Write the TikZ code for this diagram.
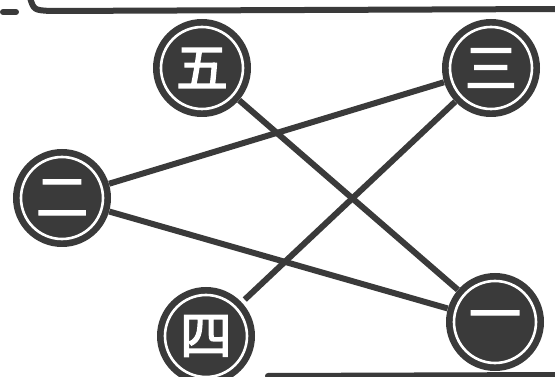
\documentclass[tikz,border=0pt]{standalone}
\usepackage{fontspec}
\newfontfamily\cjk[FakeBold=2.5]{Noto Sans CJK SC}
\definecolor{ink}{HTML}{3A3A3A}
\tikzset{
  numdisc/.style={circle, fill=ink, minimum size=98pt, inner sep=0pt, text=white,
    font=\cjk\fontsize{52}{52}\selectfont,
    path picture={\draw[white, line width=2.6pt] (path picture bounding box.center) circle (41pt);}},
  link/.style={draw=ink, line width=6pt},
  rule/.style={draw=ink, line width=6pt, line cap=round}
}
\begin{document}
\begin{tikzpicture}[x=1pt,y=-1pt]
\useasboundingbox (0,0) rectangle (555,377);
\node[numdisc] (wu) at (202,68) {五};
\node[numdisc] (san) at (491,68) {三};
\node[numdisc] (er) at (62,198) {二};
\node[numdisc] (si) at (206,336) {四};
\node[numdisc] (yi) at (495,322) {一};
\coordinate (tl) at (30,-2);
\coordinate (tc) at (50,11);
\coordinate (tr) at (560,9);
\coordinate (dl) at (3,12);
\coordinate (dr) at (16,12);
\coordinate (bl) at (268,376);
\coordinate (br) at (560,375);
\draw[rule] (tl) .. controls (34,10) .. (tc) -- (tr);
\draw[rule] (dl) -- (dr);
\draw[rule] (bl) -- (br);
\path[link] (wu) -- (yi);
\path[link] (er) -- (san);
\path[link, shorten >=4pt] (san) -- (si);
\path[link] (er) -- (yi);
\end{tikzpicture}
\end{document}
